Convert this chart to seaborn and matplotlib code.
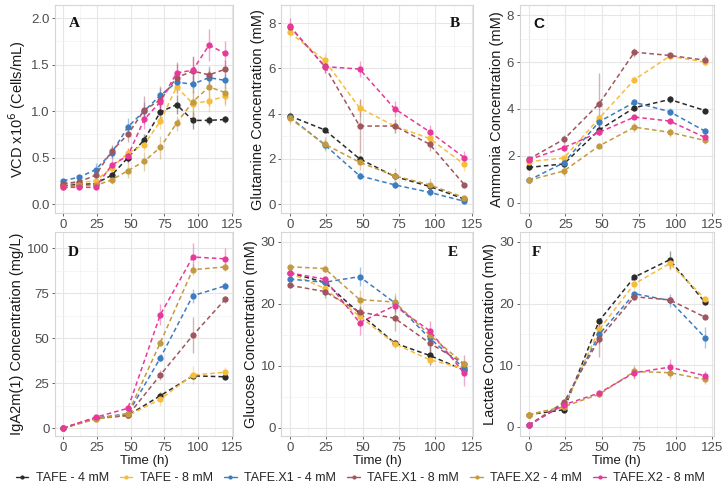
import numpy as np
import pandas as pd
import matplotlib
matplotlib.use("Agg")
import matplotlib.pyplot as plt
from matplotlib.ticker import MultipleLocator
from matplotlib.lines import Line2D
import seaborn as sns

sns.set_theme(style="white")
plt.rcParams['font.family'] = ['Liberation Sans', 'DejaVu Sans']

series = ["TAFE - 4 mM", "TAFE - 8 mM", "TAFE.X1 - 4 mM",
          "TAFE.X1 - 8 mM", "TAFE.X2 - 4 mM", "TAFE.X2 - 8 mM"]
colors = ["#2b2b2b", "#F6BC3C", "#3B7DC0", "#A0565E", "#C39A40", "#E8399B"]

t_vcd = [0, 12, 24, 36, 48, 60, 72, 84, 96, 108, 120]
t_met = [0, 24, 48, 72, 96, 120]

# Panel A: VCD
vcd = [
    [0.20, 0.21, 0.22, 0.31, 0.50, 0.69, 0.99, 1.07, 0.90, 0.90, 0.91],
    [0.21, 0.23, 0.25, 0.39, 0.55, 0.64, 0.89, 1.26, 1.08, 1.11, 1.16],
    [0.25, 0.29, 0.37, 0.55, 0.83, 1.00, 1.17, 1.31, 1.29, 1.36, 1.33],
    [0.22, 0.24, 0.31, 0.57, 0.75, 1.01, 1.12, 1.36, 1.43, 1.39, 1.45],
    [0.18, 0.20, 0.20, 0.26, 0.36, 0.46, 0.61, 0.87, 1.10, 1.26, 1.20],
    [0.18, 0.18, 0.18, 0.42, 0.52, 0.91, 1.10, 1.41, 1.44, 1.71, 1.62],
]
vcd_sd = [
    [0.01, 0.01, 0.02, 0.03, 0.05, 0.06, 0.08, 0.10, 0.09, 0.05, 0.04],
    [0.01, 0.02, 0.03, 0.05, 0.05, 0.07, 0.08, 0.10, 0.15, 0.12, 0.10],
    [0.01, 0.02, 0.07, 0.08, 0.10, 0.10, 0.08, 0.08, 0.10, 0.08, 0.08],
    [0.01, 0.02, 0.03, 0.07, 0.08, 0.15, 0.15, 0.17, 0.15, 0.10, 0.10],
    [0.01, 0.02, 0.02, 0.04, 0.08, 0.10, 0.12, 0.08, 0.22, 0.20, 0.12],
    [0.01, 0.02, 0.02, 0.05, 0.08, 0.10, 0.10, 0.10, 0.15, 0.17, 0.13],
]
# Panel B: Glutamine
gln = [
    [3.90, 3.28, 2.00, 1.22, 0.78, 0.22],
    [7.60, 6.35, 4.25, 3.45, 2.90, 1.75],
    [3.85, 2.62, 1.25, 0.85, 0.52, 0.12],
    [7.85, 6.10, 3.45, 3.45, 2.65, 0.85],
    [3.80, 2.65, 1.85, 1.25, 0.85, 0.28],
    [7.88, 6.08, 5.97, 4.22, 3.20, 2.05],
]
gln_sd = [
    [0.10, 0.05, 0.10, 0.10, 0.10, 0.05],
    [0.20, 0.35, 0.40, 0.30, 0.30, 0.30],
    [0.15, 0.20, 0.15, 0.15, 0.15, 0.10],
    [0.10, 0.30, 1.20, 0.30, 0.30, 0.10],
    [0.25, 0.30, 0.35, 0.35, 0.30, 0.10],
    [0.35, 0.30, 0.35, 0.35, 0.30, 0.30],
]
# Panel C: Ammonia
nh4 = [
    [1.50, 1.65, 3.10, 4.05, 4.40, 3.93],
    [1.75, 1.90, 3.60, 5.25, 6.25, 6.00],
    [0.95, 1.70, 3.45, 4.28, 3.88, 3.05],
    [1.85, 2.70, 4.22, 6.42, 6.28, 6.08],
    [0.95, 1.35, 2.42, 3.22, 3.00, 2.65],
    [1.82, 2.35, 3.00, 3.65, 3.48, 2.78],
]
nh4_sd = [
    [0.10, 0.10, 0.20, 0.15, 0.15, 0.05],
    [0.10, 0.10, 0.20, 0.15, 0.15, 0.10],
    [0.05, 0.10, 0.30, 0.15, 0.15, 0.15],
    [0.05, 0.20, 1.30, 0.20, 0.10, 0.20],
    [0.05, 0.20, 0.10, 0.20, 0.20, 0.15],
    [0.05, 0.10, 0.10, 0.10, 0.10, 0.10],
]
# Panel D: IgA2m(1)
iga = [
    [0, 5.5, 7.0, 18.0, 29.0, 28.5],
    [0, 5.0, 7.0, 16.0, 29.5, 31.0],
    [0, 5.5, 8.0, 39.0, 73.5, 79.0],
    [0, 5.5, 7.0, 29.5, 51.5, 71.5],
    [0, 5.0, 8.0, 47.5, 88.0, 89.5],
    [0, 6.0, 11.0, 63.0, 95.0, 94.0],
]
iga_sd = [
    [0, 0.5, 0.5, 2.0, 1.0, 1.0],
    [0, 0.5, 0.5, 4.0, 5.0, 3.0],
    [0, 0.5, 1.0, 2.0, 4.0, 2.0],
    [0, 0.5, 0.5, 3.0, 10.0, 2.0],
    [0, 0.5, 0.5, 2.0, 3.0, 2.0],
    [0, 0.5, 1.0, 6.0, 8.0, 6.0],
]
# Panel E: Glucose
glc = [
    [25.0, 23.5, 18.5, 13.7, 11.7, 9.3],
    [25.0, 22.5, 18.0, 13.6, 11.0, 9.6],
    [24.0, 23.5, 24.4, 20.2, 14.5, 9.6],
    [23.0, 22.0, 18.7, 17.7, 13.7, 10.3],
    [26.0, 25.7, 20.7, 20.3, 15.0, 10.3],
    [25.0, 24.0, 17.0, 19.7, 15.7, 8.8],
]
glc_sd = [
    [0.3, 0.5, 1.0, 0.5, 1.5, 0.5],
    [0.3, 1.0, 1.0, 0.8, 0.5, 0.5],
    [0.3, 0.5, 1.5, 1.0, 1.0, 0.5],
    [0.3, 1.0, 1.0, 2.0, 1.5, 1.5],
    [0.3, 0.5, 1.5, 1.5, 0.5, 0.5],
    [0.3, 0.5, 2.0, 1.0, 1.5, 2.0],
]
# Panel F: Lactate
lac = [
    [2.0, 2.8, 17.2, 24.3, 27.1, 20.2],
    [2.0, 3.2, 15.8, 23.2, 26.5, 20.8],
    [0.3, 3.7, 15.0, 21.6, 20.5, 14.5],
    [0.3, 4.0, 14.3, 21.1, 20.6, 17.8],
    [2.0, 3.3, 5.3, 9.0, 8.8, 7.7],
    [0.3, 3.6, 5.5, 8.8, 9.7, 8.3],
]
lac_sd = [
    [0.2, 0.3, 0.3, 0.3, 1.5, 0.3],
    [0.2, 0.5, 1.0, 1.0, 1.0, 0.3],
    [0.2, 0.3, 1.5, 0.5, 1.0, 1.7],
    [0.2, 0.5, 3.0, 0.5, 0.5, 0.3],
    [0.2, 0.5, 0.5, 1.0, 1.0, 0.8],
    [0.2, 0.3, 0.5, 1.0, 1.3, 0.8],
]

panels = [
    ("A", t_vcd, vcd, vcd_sd, "VCD x10$^6$ (Cells/mL)", (-0.097, 2.14), 0.5, (0.08, 0.91)),
    ("B", t_met, gln, gln_sd, "Glutamine Concentration (mM)", (-0.4, 8.8), 2, (0.88, 0.91)),
    ("C", t_met, nh4, nh4_sd, "Ammonia Concentration (mM)", (-0.45, 8.43), 2, (0.07, 0.91)),
    ("D", t_met, iga, iga_sd, "IgA2m(1) Concentration (mg/L)", (-4.4, 108.9), 25, (0.07, 0.90)),
    ("E", t_met, glc, glc_sd, "Glucose Concentration (mM)", (-1.3, 31.6), 10, (0.87, 0.90)),
    ("F", t_met, lac, lac_sd, "Lactate Concentration (mM)", (-1.46, 31.6), 10, (0.06, 0.90)),
]

fig = plt.figure(figsize=(7.28, 4.91), dpi=100)
lefts = [0.0755, 0.386, 0.714]
widths = [0.245, 0.264, 0.2665]
bottoms = [0.566, 0.112]
heights = [0.4236, 0.4155]

palette = dict(zip(series, colors))

for i, (lab, tt, vals, sds, ylabel, ylim, ystep, lpos) in enumerate(panels):
    r, c = divmod(i, 3)
    ax = fig.add_axes([lefts[c], bottoms[r], widths[c], heights[r]])
    rows = []
    for s, v, e in zip(series, vals, sds):
        for t, y, sd in zip(tt, v, e):
            rows.append({"time": t, "value": y, "sd": sd, "series": s})
    df = pd.DataFrame(rows)
    for s in series:
        d = df[df.series == s]
        ax.errorbar(d.time, d.value, yerr=d.sd, fmt="none", ecolor=palette[s],
                    elinewidth=1.0, alpha=0.45, capsize=0, zorder=2)
    sns.lineplot(data=df, x="time", y="value", hue="series", hue_order=series,
                 palette=palette, marker="o", markersize=4.5, markeredgewidth=0,
                 linestyle="--", linewidth=1.1, errorbar=None, legend=False,
                 ax=ax, zorder=3)
    for ln in ax.lines:
        ln.set_dashes([3, 2])
    ax.set_xlim(-6, 126)
    ax.set_ylim(*ylim)
    ax.xaxis.set_major_locator(MultipleLocator(25))
    ax.xaxis.set_minor_locator(MultipleLocator(12.5))
    ax.yaxis.set_major_locator(MultipleLocator(ystep))
    ax.yaxis.set_minor_locator(MultipleLocator(ystep / 2))
    ax.grid(which="major", color="#E6E6E6", linewidth=0.8)
    ax.grid(which="minor", color="#F2F2F2", linewidth=0.5)
    ax.set_axisbelow(True)
    for sp in ax.spines.values():
        sp.set_color("#D6D6D6")
        sp.set_linewidth(0.8)
    ax.tick_params(axis="both", which="major", labelsize=9.5, colors="#4D4D4D",
                   length=2.5, width=0.6, pad=1.5, left=True, bottom=True)
    ax.tick_params(axis="both", which="minor", length=0)
    ax.set_ylabel(ylabel, fontsize=10.5, color="#1a1a1a", labelpad=2)
    if r == 1:
        ax.set_xlabel("Time (h)", fontsize=9.5, color="#1a1a1a", labelpad=1)
    else:
        ax.set_xlabel("")
    fam = "Liberation Sans" if lab == "C" else "Liberation Serif"
    ax.text(lpos[0], lpos[1], lab, transform=ax.transAxes, fontsize=11,
            fontweight="bold", family=fam, color="#111111",
            ha="left", va="center")

handles = [Line2D([0], [0], color=col, marker="o", markersize=3, linewidth=1.0,
                  markeredgewidth=0) for col in colors]
fig.legend(handles, series, loc="center", bbox_to_anchor=(0.495, 0.026), ncol=6,
           frameon=False, fontsize=9.0, handlelength=1.0, handletextpad=0.6,
           columnspacing=0.9)

fig.savefig("out.png", dpi=100)
